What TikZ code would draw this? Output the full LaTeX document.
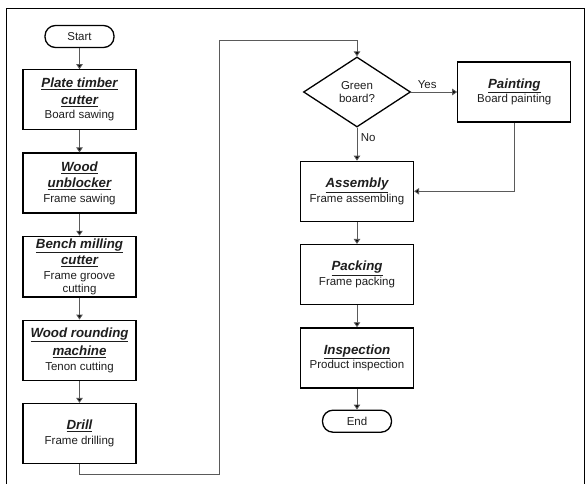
\documentclass[tikz,border=0pt]{standalone}
\usepackage{fontspec}
\setmainfont{Liberation Sans}
\usepackage{tikz}
\usetikzlibrary{positioning}
\usetikzlibrary{shapes.geometric, arrows.meta}
\definecolor{inkgray}{HTML}{1E1E1E}
\definecolor{linegray}{HTML}{5A5A5A}
\tikzstyle{arrow} = [line width=0.9pt, draw=linegray, -{Triangle[width=6.5pt,length=5pt,fill=black]}]
\tikzstyle{process} = [draw, line width=1.3pt, minimum width=113pt, minimum height=60pt, align=center, text=inkgray, inner sep=2pt]
\tikzstyle{terminal} = [draw, line width=1.3pt, rounded corners=10.5pt, minimum width=69pt, minimum height=22pt, text=inkgray]
\tikzstyle{decision} = [draw, diamond, line width=1.3pt, minimum width=107pt, minimum height=70pt, align=center, inner sep=0pt, text=inkgray]
\newcommand{\steptitle}[1]{{\fontsize{13.3}{15}\selectfont\bfseries\itshape\underline{#1}}}

\begin{document}
\begin{tikzpicture}[
    x = 1pt, y = -1pt,
    font = \fontsize{11.5}{13.5}\selectfont,
    node distance = 22pt
  ]
  \useasboundingbox (0,0) rectangle (586,484);
  % outer frame, open at the bottom
  \draw[line width=1pt] (6,484) -- (6,9) -- (584.5,9) -- (584.5,484);

  % left column
  \node[terminal] (Start) at (79.5,36.5) {Start};
  \node[process, below=21pt of Start] (Plate) {\steptitle{Plate timber}\\[3pt]\steptitle{cutter}\\[1pt]Board sawing};
  \node[process, below=of Plate] (Unblock) {\steptitle{Wood}\\[3pt]\steptitle{unblocker}\\[1pt]Frame sawing};
  \node[process, below=of Unblock] (Bench) {\steptitle{Bench milling}\\[3pt]\steptitle{cutter}\\[1pt]Frame groove\\cutting};
  \node[process, below=of Bench] (Round) {\steptitle{Wood rounding}\\[3pt]\steptitle{machine}\\[1pt]Tenon cutting};
  \node[process, below=of Round] (Drill) {\steptitle{Drill}\\[1pt]Frame drilling};

  % right column
  \node[decision] (Green) at (357,92) {Green\\board?};
  \node[process, right=46pt of Green] (Paint) {\steptitle{Painting}\\[1pt]Board painting};
  \node[process, below=33pt of Green] (Assembly) {\steptitle{Assembly}\\[1pt]Frame assembling};
  \node[process, below=of Assembly] (Pack) {\steptitle{Packing}\\[1pt]Frame packing};
  \node[process, below=of Pack] (Inspect) {\steptitle{Inspection}\\[1pt]Product inspection};
  \node[terminal, below=21pt of Inspect] (End) {End};

  \coordinate (DrillTurn) at (219.5,474);
  \coordinate (TopTurn) at (219.5,40);

  % connectors
  \draw[arrow] (Start) -- (Plate);
  \draw[arrow] (Plate) -- (Unblock);
  \draw[arrow] (Unblock) -- (Bench);
  \draw[arrow] (Bench) -- (Round);
  \draw[arrow] (Round) -- (Drill);
  \draw[arrow] (Drill.south) |- (DrillTurn) -- (TopTurn) -| (Green.north);
  \draw[arrow] (Green.east) -- node[pos=0.35, above, text=inkgray] {Yes} (Paint.west);
  \draw[arrow] (Green.south) -- node[pos=0.3, right, text=inkgray] {No} (Assembly.north);
  \draw[arrow] (Paint.south) |- (Assembly.east);
  \draw[arrow] (Assembly) -- (Pack);
  \draw[arrow] (Pack) -- (Inspect);
  \draw[arrow] (Inspect) -- (End);
\end{tikzpicture}
\end{document}
